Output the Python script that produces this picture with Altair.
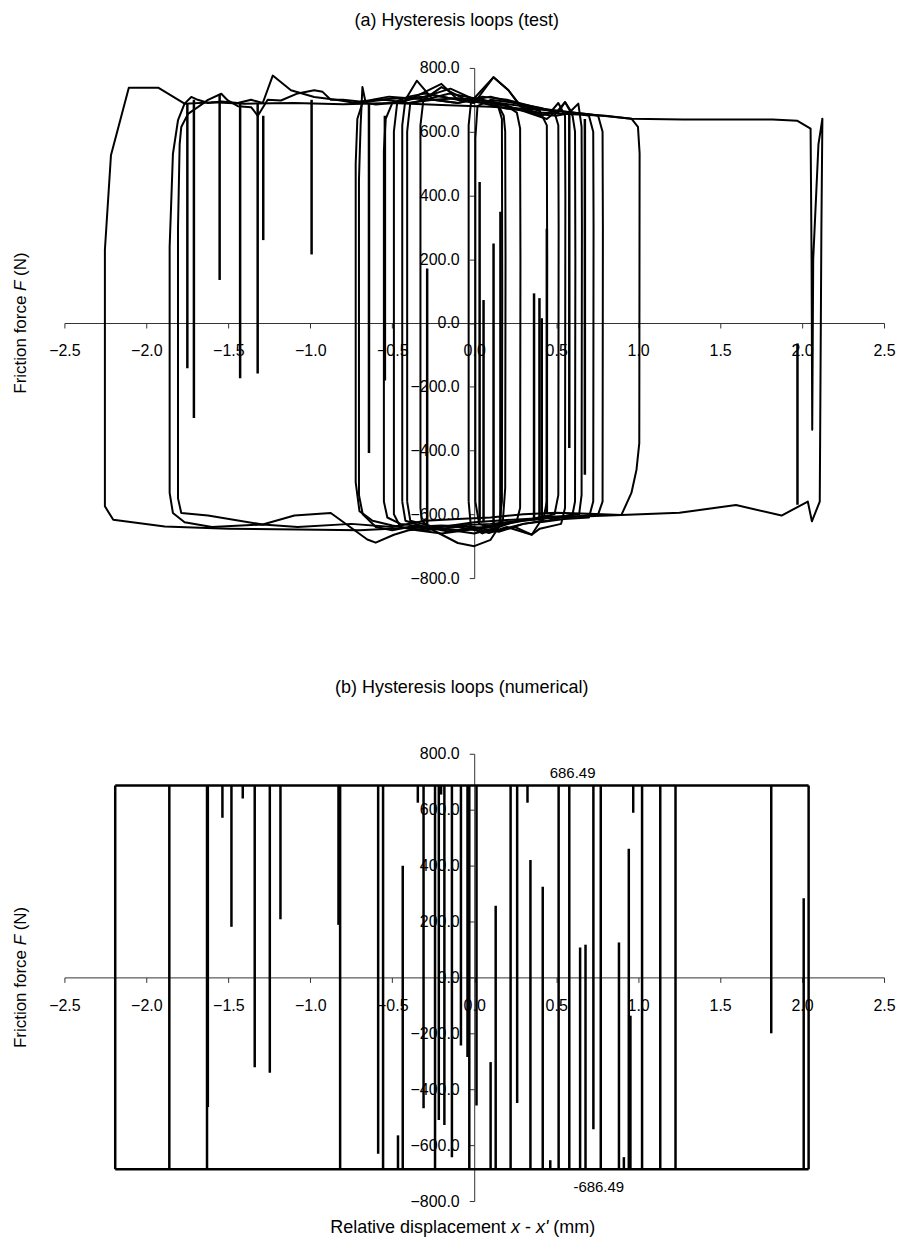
import altair as alt
import pandas as pd

# ---------------- data ----------------
x_ticks = [-2.5, -2.0, -1.5, -1.0, -0.5, 0.0, 0.5, 1.0, 1.5, 2.0, 2.5]
f_ticks = [-800, -600, -400, -200, 0, 200, 400, 600, 800]

# (a) test loops: (displacement mm, friction force N)
loop_a = [(-2.253, 0), (-2.253, 229), (-2.216, 526), (-2.107, 738), (-1.928, 738), (-1.767, 688),
          (-1.60, 692), (-1.40, 688), (-1.10, 690), (-0.80, 686), (-0.50, 690), (-0.20, 684),
          (0.10, 678), (0.463, 667), (0.959, 641), (1.273, 638), (1.820, 638), (1.972, 634),
          (2.052, 610), (2.058, 200), (2.062, -335), (2.068, 200), (2.100, 560), (2.124, 641),
          (2.118, 300), (2.108, -560), (2.060, -622), (2.035, -560), (1.875, -604), (1.597, -571),
          (1.252, -595), (0.898, -602), (0.500, -610), (0.100, -630), (-0.300, -640), (-0.700, -650),
          (-1.077, -648), (-1.500, -645), (-1.888, -638), (-2.202, -617), (-2.253, -575), (-2.253, 0)]
loop_b = [(-1.858, -300), (-1.858, 239), (-1.838, 530), (-1.807, 636), (-1.767, 688), (-1.726, 709),
          (-1.686, 700), (-1.624, 690), (-1.543, 695), (-1.442, 690), (-1.361, 700), (-1.290, 690),
          (-1.229, 776), (-1.118, 730), (-0.976, 709), (-0.844, 700), (-0.723, 690), (-0.55, 700),
          (-0.40, 690), (-0.25, 700), (-0.10, 705), (0.05, 690), (0.20, 672), (0.40, 660), (0.60, 655),
          (0.80, 650), (0.959, 641), (0.999, 615), (1.009, 532), (1.007, -377), (0.990, -460),
          (0.959, -533), (0.898, -602), (0.70, -598), (0.50, -595), (0.30, -600), (0.10, -610),
          (-0.10, -615), (-0.30, -620), (-0.50, -640), (-0.75, -630), (-1.077, -640), (-1.29, -632),
          (-1.60, -640), (-1.767, -625), (-1.838, -596), (-1.858, -533), (-1.858, -300)]
loop_c = [(-1.807, -300), (-1.807, 300), (-1.797, 560), (-1.787, 615), (-1.746, 656), (-1.686, 677),
          (-1.624, 700), (-1.543, 719), (-1.503, 698), (-1.442, 680), (-1.361, 677), (-1.320, 650),
          (-1.260, 700), (-1.179, 698), (-1.077, 720), (-0.976, 730), (-0.925, 725), (-0.875, 700),
          (-0.80, 700), (-0.70, 695), (-0.60, 700), (-0.45, 705), (-0.30, 710), (-0.145, 735),
          (0.007, 700), (0.15, 690), (0.30, 680), (0.45, 670), (0.60, 660), (0.70, 655), (0.756, 650),
          (0.783, 600), (0.785, 300), (0.783, -560), (0.756, -600), (0.60, -608), (0.40, -612),
          (0.20, -618), (0.0, -625), (-0.20, -640), (-0.40, -650), (-0.49, -664), (-0.601, -689),
          (-0.652, -679), (-0.875, -596), (-1.097, -604), (-1.290, -632), (-1.624, -604),
          (-1.787, -596), (-1.807, -550), (-1.807, -300)]
loop_d = [(-0.703, -450), (-0.703, 450), (-0.693, 620), (-0.682, 740), (-0.662, 690), (-0.60, 685),
          (-0.50, 690), (-0.40, 700), (-0.30, 725), (-0.20, 750), (-0.10, 700), (0.0, 690),
          (0.118, 771), (0.209, 730), (0.28, 680), (0.40, 655), (0.50, 650), (0.60, 660), (0.70, 650),
          (0.726, 600), (0.728, 300), (0.726, -560), (0.70, -610), (0.55, -615), (0.40, -625),
          (0.351, -664), (0.25, -640), (0.15, -650), (0.09, -658), (0.0, -640), (-0.20, -635),
          (-0.40, -640), (-0.50, -650), (-0.60, -640), (-0.68, -600), (-0.703, -540), (-0.703, -450)]
loop_e = [(-0.723, -500), (-0.723, 500), (-0.713, 640), (-0.682, 690), (-0.62, 700), (-0.52, 710),
          (-0.40, 705), (-0.25, 700), (-0.10, 690), (0.05, 710), (0.20, 700), (0.35, 680), (0.50, 660),
          (0.554, 693), (0.59, 665), (0.635, 688), (0.655, 615), (0.657, 300), (0.655, -540),
          (0.64, -600), (0.55, -605), (0.40, -610), (0.25, -625), (0.10, -640), (-0.05, -650),
          (-0.20, -660), (-0.35, -650), (-0.50, -635), (-0.62, -620), (-0.70, -590), (-0.723, -500)]
loop_f = [(-0.551, -500), (-0.551, 540), (-0.54, 640), (-0.50, 690), (-0.40, 710), (-0.30, 720),
          (-0.15, 705), (0.0, 700), (0.10, 710), (0.25, 690), (0.40, 675), (0.513, 660), (0.554, 693),
          (0.60, 650), (0.615, 600), (0.617, 200), (0.615, -560), (0.60, -600), (0.45, -620),
          (0.30, -630), (0.15, -655), (0.0, -640), (-0.15, -655), (-0.30, -640), (-0.45, -630),
          (-0.53, -610), (-0.551, -560), (-0.551, -500)]
loop_g = [(-0.49, -533), (-0.49, 600), (-0.47, 690), (-0.40, 700), (-0.25, 715), (-0.10, 700),
          (0.0, 705), (0.118, 771), (0.209, 730), (0.30, 670), (0.40, 650), (0.463, 660), (0.513, 690),
          (0.554, 650), (0.556, 400), (0.554, -580), (0.53, -630), (0.40, -645), (0.351, -664),
          (0.20, -640), (0.09, -658), (-0.10, -640), (-0.30, -650), (-0.45, -640), (-0.49, -600),
          (-0.49, -533)]
loop_h = [(-0.439, -560), (-0.439, 620), (-0.42, 700), (-0.35, 760), (-0.25, 700), (-0.10, 690),
          (0.0, 700), (0.15, 690), (0.30, 665), (0.443, 640), (0.49, 660), (0.513, 620), (0.515, 300),
          (0.513, -540), (0.49, -600), (0.35, -615), (0.20, -625), (0.05, -640), (-0.10, -650),
          (-0.30, -640), (-0.42, -620), (-0.439, -560)]
loop_i = [(-0.409, -560), (-0.409, 600), (-0.39, 690), (-0.30, 700), (-0.15, 720), (0.0, 705),
          (0.10, 690), (0.20, 680), (0.26, 660), (0.28, 610), (0.282, 200), (0.28, -580), (0.26, -620),
          (0.15, -640), (0.0, -660), (-0.20, -645), (-0.39, -620), (-0.409, -560)]
loop_j = [(-0.328, -580), (-0.328, 620), (-0.31, 700), (-0.20, 740), (-0.05, 700), (0.05, 690),
          (0.15, 680), (0.18, 650), (0.189, 600), (0.191, 200), (0.189, -518), (0.175, -620),
          (0.10, -680), (0.0, -700), (-0.10, -690), (-0.25, -650), (-0.32, -620), (-0.328, -580)]
loop_k = [(-0.034, -560), (-0.034, 620), (-0.02, 690), (0.05, 700), (0.14, 690), (0.169, 640),
          (0.171, 100), (0.169, -560), (0.15, -640), (0.05, -660), (-0.02, -640), (-0.034, -560)]
loop_l = [(0.007, -560), (0.007, 580), (0.02, 680), (0.10, 700), (0.25, 690), (0.40, 665),
          (0.443, 620), (0.445, 200), (0.443, -560), (0.42, -620), (0.30, -630), (0.15, -650),
          (0.03, -630), (0.007, -560)]

# (a) partial reversals: (displacement, start force, end force)
test_spikes = [(-1.750, 690, -142), (-1.710, 700, -298), (-1.553, 716, 135), (-1.428, 690, -173),
               (-1.321, 690, -158), (-1.287, 650, 260), (-0.992, 700, 215), (-0.642, 690, -408),
               (-0.545, 650, -180), (0.580, 660, -392), (0.675, 640, -476),
               (-0.287, -640, 171), (0.033, -620, 442), (0.057, -625, 72), (0.118, -640, 249),
               (0.160, -635, 349), (0.365, -620, 93), (0.398, -620, 78), (0.412, -620, 15),
               (0.443, -600, 296), (1.972, -570, -64)]

# (b) numerical model
slip_force = 686.49
num_span = [-2.19, 2.04]
num_reversal_x = [-2.190, -1.860, -1.630, -0.818, -0.556, -0.239, -0.030, 0.222, 0.515, 0.580,
                  0.772, 1.024, 1.135, 1.228, 2.040]
num_spikes_top = [(-1.625, -464), (-1.536, 571), (-1.481, 181), (-1.412, 640), (-1.339, -321),
                  (-1.247, -341), (-1.182, 208), (-0.828, 188), (-0.586, -631), (-0.344, 625),
                  (-0.309, -468), (-0.216, -510), (-0.202, 654), (-0.182, -528), (-0.136, -643),
                  (-0.081, -244), (-0.041, -285), (0.014, -458), (0.262, -449), (0.325, 625),
                  (0.727, -543), (0.970, 589), (1.812, -200)]
num_spikes_bottom = [(-0.465, -565), (-0.436, 399), (0.100, -303), (0.131, 256), (0.343, 420),
                     (0.418, 324), (0.464, -654), (0.646, 107), (0.679, 117), (0.883, 125),
                     (0.913, -643), (0.943, 460), (0.953, -137), (2.010, 283)]
ann_x = [0.60, 0.76]

# ---------------- layout / style ----------------
FONT = "Liberation Sans"
W = 821
HA = 511
HB = 448

xscale = alt.Scale(domain=[-2.5, 2.5], nice=False, zero=False)
yscale = alt.Scale(domain=[-800, 800], nice=False, zero=False)


def x_axis(h):
    return alt.Axis(values=x_ticks, format=".1f", offset=-h / 2, grid=False, tickSize=5,
                    labelPadding=15, domainColor="#333333", tickColor="#333333", domainWidth=1,
                    tickWidth=1, labelFont=FONT, labelFontSize=16, labelColor="black",
                    labelOverlap=False, labelFlush=False, title=None)


def y_axis():
    return alt.Axis(values=f_ticks, format=".1f", offset=-W / 2, grid=False, tickSize=5,
                    labelPadding=10, domainColor="#333333", tickColor="#333333", domainWidth=1,
                    tickWidth=1, labelFont=FONT, labelFontSize=16, labelColor="black",
                    labelOverlap=False, labelFlush=False, title=None)


def text_piece(s, px, py, size, italic=False, angle=0, align="left"):
    kw = dict(font=FONT, fontSize=size, color="black", align=align, baseline="middle")
    if italic:
        kw["fontStyle"] = "italic"
    if angle:
        kw["angle"] = angle
    return alt.Chart(pd.DataFrame({"t": [s]})).mark_text(**kw).encode(
        text="t:N", x=alt.value(px), y=alt.value(py))


def y_title(h):
    # pieces: (text, italic, start offset along the text direction)
    size = 17
    total = 141.6
    y0 = h / 2 + total / 2
    parts = [("Friction force", False, 0.0), ("F", True, 102.9), ("(N)", False, 118.0)]
    return [text_piece(s, -43, y0 - off, size, italic=it, angle=270) for s, it, off in parts]


def x_title(py):
    size = 18
    total = 265.5
    x0 = 399 - total / 2
    parts = [("Relative displacement", False, 0.0), ("x", True, 181.1), ("-", False, 195.1),
             ("x'", True, 206.1), ("(mm)", False, 223.5)]
    return [text_piece(s, x0 + off, py, size, italic=it) for s, it, off in parts]


# ---------------- panel (a) ----------------
loops = {"a": loop_a, "b": loop_b, "c": loop_c, "d": loop_d, "e": loop_e, "f": loop_f,
         "g": loop_g, "h": loop_h, "i": loop_i, "j": loop_j, "k": loop_k, "l": loop_l}
rows = []
for name, pts in loops.items():
    for i, (x, f) in enumerate(pts):
        rows.append({"loop": name, "i": i, "x": x, "F": f})
df_a = pd.DataFrame(rows)
df_spk_a = pd.DataFrame(test_spikes, columns=["x", "f0", "f1"])

lines_a = alt.Chart(df_a).mark_line(color="black", strokeWidth=2, strokeJoin="round").encode(
    x=alt.X("x:Q", scale=xscale, axis=x_axis(HA)),
    y=alt.Y("F:Q", scale=yscale, axis=y_axis()),
    detail="loop:N", order="i:Q")
spikes_a = alt.Chart(df_spk_a).mark_rule(color="black", strokeWidth=2.5).encode(
    x=alt.X("x:Q", scale=xscale, axis=x_axis(HA)),
    y=alt.Y("f0:Q", scale=yscale, axis=y_axis()), y2="f1:Q")

panel_a = alt.layer(
    lines_a, spikes_a,
    text_piece("(a) Hysteresis loops (test)", 393, -47, 18, align="center"),
    *y_title(HA),
).properties(width=W, height=HA)

# ---------------- panel (b) ----------------
df_h = pd.DataFrame({"x0": [num_span[0], num_span[0]], "x1": [num_span[1], num_span[1]],
                     "F": [slip_force, -slip_force]})
df_v = pd.DataFrame({"x": num_reversal_x, "f0": -slip_force, "f1": slip_force})
df_st = pd.DataFrame({"x": [p[0] for p in num_spikes_top], "f0": slip_force,
                      "f1": [p[1] for p in num_spikes_top]})
df_sb = pd.DataFrame({"x": [p[0] for p in num_spikes_bottom], "f0": -slip_force,
                      "f1": [p[1] for p in num_spikes_bottom]})
df_vert = pd.concat([df_v, df_st, df_sb], ignore_index=True)

horiz_b = alt.Chart(df_h).mark_rule(color="black", strokeWidth=2.5).encode(
    x=alt.X("x0:Q", scale=xscale, axis=x_axis(HB)), x2="x1:Q",
    y=alt.Y("F:Q", scale=yscale, axis=y_axis()))
vert_b = alt.Chart(df_vert).mark_rule(color="black", strokeWidth=2.5).encode(
    x=alt.X("x:Q", scale=xscale, axis=x_axis(HB)),
    y=alt.Y("f0:Q", scale=yscale, axis=y_axis()), y2="f1:Q")

ann_top = alt.Chart(pd.DataFrame({"x": [ann_x[0]], "F": [slip_force], "t": [f"{slip_force:.2f}"]})
                    ).mark_text(font=FONT, fontSize=15, color="black", dy=-13).encode(
    x=alt.X("x:Q", scale=xscale, axis=x_axis(HB)),
    y=alt.Y("F:Q", scale=yscale, axis=y_axis()), text="t:N")
ann_bot = alt.Chart(pd.DataFrame({"x": [ann_x[1]], "F": [-slip_force], "t": [f"{-slip_force:.2f}"]})
                    ).mark_text(font=FONT, fontSize=15, color="black", dy=18).encode(
    x=alt.X("x:Q", scale=xscale, axis=x_axis(HB)),
    y=alt.Y("F:Q", scale=yscale, axis=y_axis()), text="t:N")

panel_b = alt.layer(
    horiz_b, vert_b, ann_top, ann_bot,
    text_piece("(b) Hysteresis loops (numerical)", 398, -66, 18, align="center"),
    *y_title(HB),
    *x_title(475),
).properties(width=W, height=HB)

chart = alt.vconcat(panel_a, panel_b, spacing=93).properties(
    padding={"left": 3.5, "top": 3, "right": 0, "bottom": 0},
    background="white",
).configure_view(stroke=None)

chart.save("out.html", embed_options={"renderer": "svg", "actions": False})
